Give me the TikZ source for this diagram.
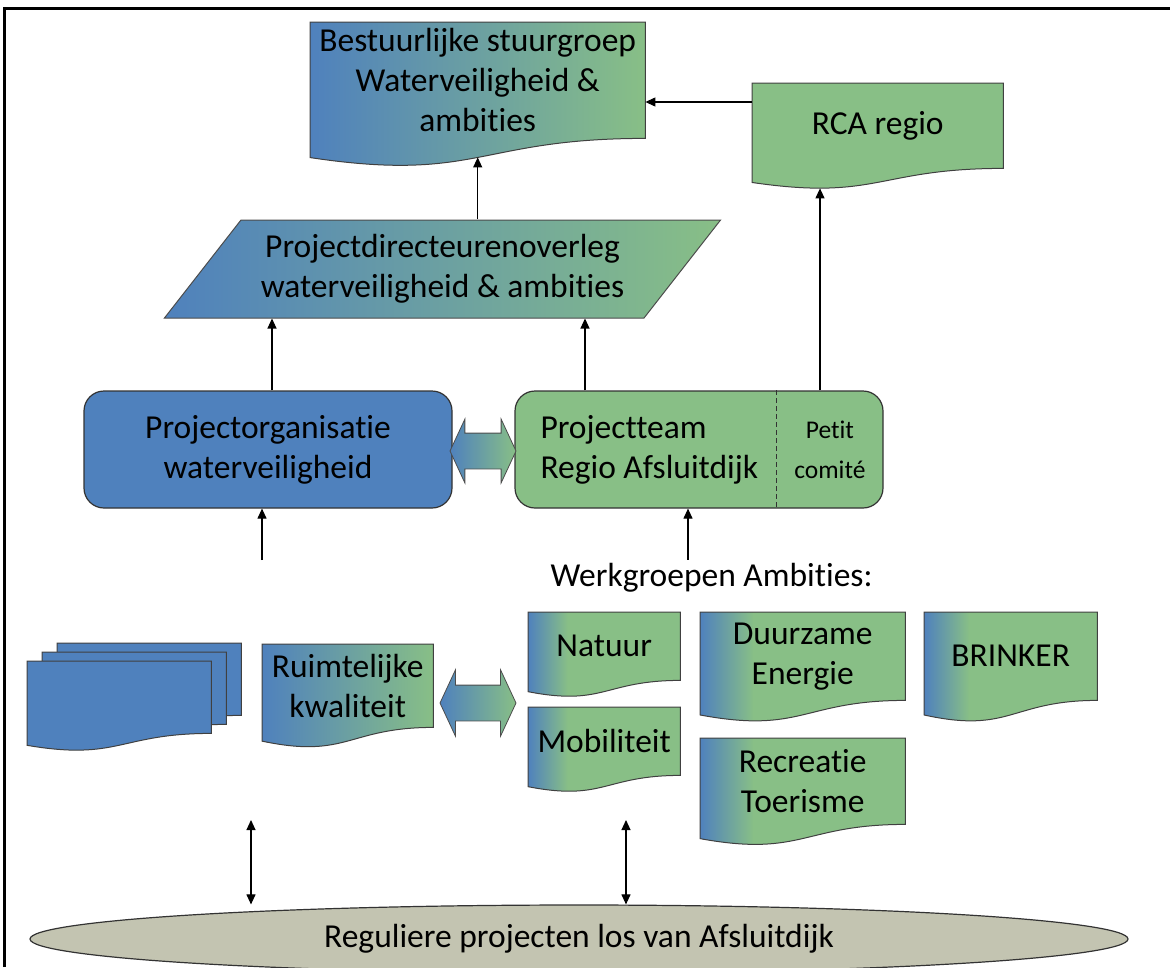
\documentclass[tikz,border=0pt]{standalone}
\usepackage{fontspec}
\setmainfont{Carlito}[Ligatures={NoCommon,NoContextual},RawFeature={-liga;-clig;-calt;-dlig}]
\usetikzlibrary{shapes.geometric,shapes.arrows,arrows.meta,backgrounds,calc}

\definecolor{docblue}{RGB}{79,129,189}
\definecolor{docgreen}{RGB}{136,191,134}
\definecolor{ovalgrey}{RGB}{195,196,177}

\pgfdeclarehorizontalshading{edgeshade}{100bp}{color(0bp)=(docblue); color(25bp)=(docblue); color(38bp)=(docgreen); color(100bp)=(docgreen)}

\newcommand{\bigtxt}{\fontsize{33.5}{40}\selectfont}
\newcommand{\smalltxt}{\fontsize{25.5}{40}\selectfont}

\newcommand{\docshape}[2]{%
	\path[docline,#2] let \p1=(#1.north west), \p2=(#1.south east) in
		(\p1) -- (\x2,\y1) -- (\p2)
		.. controls ({(\x1+\x2)/2},\y2) and ({(\x1+\x2)/2},{\y2-0.3815*(\y1-\y2)}) .. (\x1,{\y2-0.1646*(\y1-\y2)}) -- cycle;
	\coordinate (#1-b) at ($(#1.south)!-0.1635!(#1.north)$);}

\tikzset{doc/.style n args={2}{anchor=north west,inner sep=0pt,align=center,font=\bigtxt,minimum width=#1,minimum height=#2},
docline/.style={draw=black!75,line width=1pt},
fullgrad/.style={left color=docblue,right color=docgreen},
edgegrad/.style={shading=edgeshade},
box/.style={rounded corners=20pt,draw=black!80,line width=1.2pt,fill=#1,minimum width=368pt,minimum height=117pt,align=center,font=\bigtxt},
box/.default={docblue},
dblarrow/.style={double arrow,double arrow head extend=#1,double arrow tip angle=130,inner xsep=0pt,inner ysep=17.5pt,draw=black!70,line width=0.8pt,fullgrad}}

\begin{document}
\begin{tikzpicture}[x=1pt,y=-1pt,
link/.style={-{Triangle[length=10pt,width=9pt]},line width=1.1pt},
both/.style={{Triangle[length=10pt,width=9pt]}-{Triangle[length=10pt,width=9pt]},line width=1.1pt}]
\useasboundingbox (0,0) rectangle (1170,967);
\draw[line width=3pt] (4,967) -- (4,8) -- (1170,8);

\node[doc={335pt}{116pt}] (stuur) at (310,22) {Bestuurlijke stuurgroep\\Waterveiligheid \&\\ambities};
\node[doc={251pt}{85pt}] (rca) at (752,83) {RCA regio};
\node[trapezium,trapezium left angle=45,trapezium right angle=135,trapezium stretches=true,
	minimum width=559pt,minimum height=98pt,inner sep=0pt,draw=black!70,line width=1pt,fullgrad,
	align=center,font=\bigtxt] (pdo) at (442.5,269) {Projectdirecteurenoverleg\\waterveiligheid \& ambities};

\node[box=docblue] (org) at (268,449.5) {Projectorganisatie\\waterveiligheid};
\node[box=docgreen] (team) at (699,449.5) {};
\node[anchor=east,minimum width=107pt,inner sep=0pt,align=center,font=\smalltxt] (petit) at (team.east) {Petit\\comité};
\node[align=left,font=\bigtxt] (teamtxt) at ([xshift=4pt]$(team.west)!0.5!(petit.west)$) {Projectteam\\Regio Afsluitdijk};
\draw[dash pattern=on 5pt off 3pt,line width=1pt,black!80] (petit.west |- team.north) -- (petit.west |- team.south);
\node[dblarrow=14pt,minimum height=66pt] (pijl1) at (483,451) {};

\node[font=\bigtxt] (werk) at (711.5,578) {Werkgroepen Ambities:};

\node[doc={184pt}{72pt}] (stackc) at (57,643) {};
\node[doc={184pt}{72pt}] (stackb) at (42,652) {};
\node[doc={184pt}{72pt}] (stacka) at (27,661) {};
\node[doc={171pt}{83pt}] (ruim) at (262,644) {Ruimtelijke\\kwaliteit};
\node[dblarrow=15.5pt,minimum height=76pt] (pijl2) at (478,703) {};
\node[doc={152pt}{68pt}] (natuur) at (528,612) {Natuur};
\node[doc={152pt}{68pt}] (mobi) at (528,707) {Mobiliteit};
\node[doc={205pt}{88pt}] (duur) at (700,612) {Duurzame\\Energie};
\node[doc={173pt}{88pt}] (brinker) at (924,612) {BRINKER};
\node[doc={205pt}{86pt}] (recr) at (700,738) {Recreatie\\Toerisme};

\node[ellipse,draw=black!80,line width=1.2pt,fill=ovalgrey,minimum width=1098pt,minimum height=68pt,
	font=\bigtxt] (ell) at (579,939) {Reguliere projecten los van Afsluitdijk};

\begin{scope}[on background layer]
	\docshape{stuur}{fullgrad}
	\docshape{rca}{fill=docgreen}
	\docshape{stackc}{fill=docblue}
	\docshape{stackb}{fill=docblue}
	\docshape{stacka}{fill=docblue}
	\docshape{ruim}{fullgrad}
	\docshape{natuur}{edgegrad}
	\docshape{mobi}{edgegrad}
	\docshape{duur}{edgegrad}
	\docshape{brinker}{edgegrad}
	\docshape{recr}{edgegrad}
\end{scope}

\coordinate (orgfeed) at (262,560);
\coordinate (ruimlink) at (251,820);
\coordinate (amblink) at (626,820);
\draw[link] (rca.west |- 0,102) -- (stuur.east |- 0,102);
\draw[link] (pdo.north -| stuur-b) -- (stuur-b);
\draw[link] (org.north -| 272,0) -- (pdo.south -| 272,0);
\draw[link] (team.north -| 585,0) -- (pdo.south -| 585,0);
\draw[link] (team.north -| 820,0) -- ($(820,0 |- rca-b)+(0,6)$);
\draw[link] (orgfeed) -- (orgfeed |- org.south);
\draw[link] (werk.north -| 688,0) -- (team.south -| 688,0);
\draw[both] (ruimlink) -- (ruimlink |- ell.north);
\draw[both] (amblink) -- (amblink |- ell.north);
\end{tikzpicture}
\end{document}
